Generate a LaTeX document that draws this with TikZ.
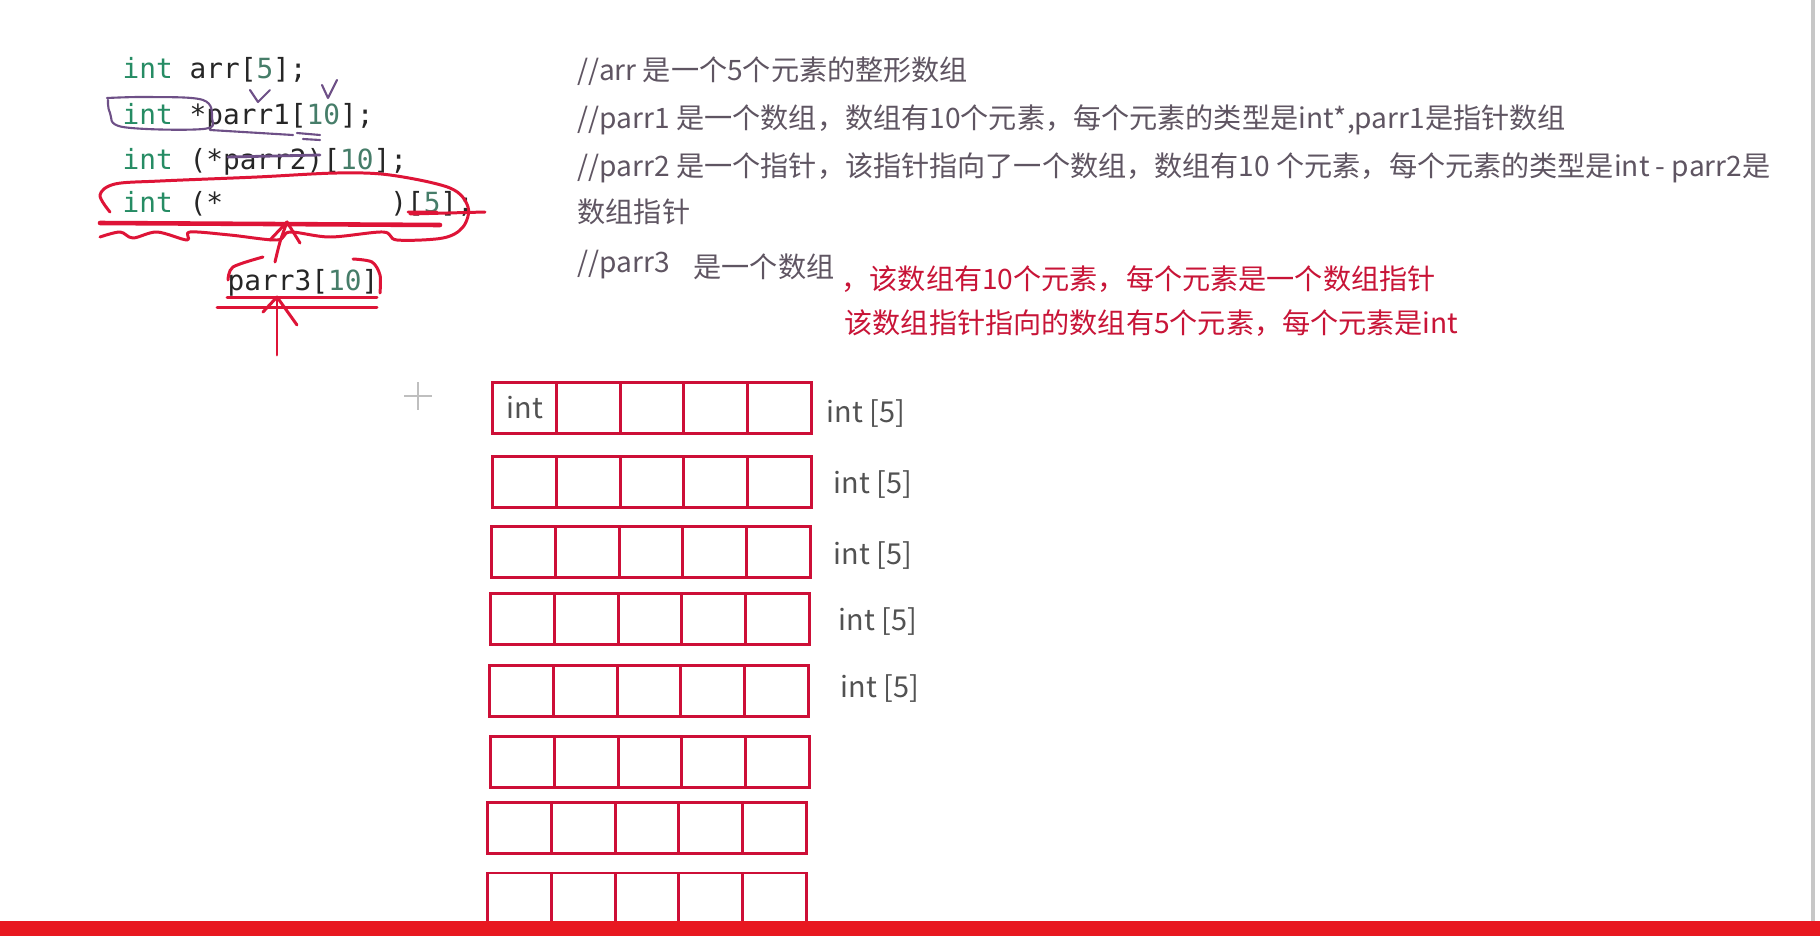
\documentclass[tikz,border=0pt]{standalone}
\usepackage{fontspec}
\setmainfont{Noto Sans CJK SC}
\newfontfamily\cjk{Noto Sans CJK SC}
\newfontfamily\codefont{DejaVu Sans Mono}
\definecolor{kwgreen}{RGB}{38,140,100}
\definecolor{numgreen}{RGB}{70,125,105}
\definecolor{notegray}{RGB}{95,85,98}
\definecolor{notered}{RGB}{200,20,55}
\definecolor{boxred}{RGB}{205,15,55}
\definecolor{inkred}{RGB}{222,20,55}
\definecolor{inkpurple}{RGB}{110,80,135}
\definecolor{bandred}{RGB}{232,24,32}
\newcommand{\kwd}[1]{\textcolor{kwgreen}{#1}}
\newcommand{\cnum}[1]{\textcolor{numgreen}{#1}}
\usetikzlibrary{positioning}

\begin{document}
\begin{tikzpicture}[x=0.01cm, y=-0.01cm,
    code/.style={anchor=base west, inner sep=0pt, text=black!85,
                 font=\codefont\fontsize{7.9pt}{9pt}\selectfont},
    note/.style={anchor=base west, inner sep=0pt, text=notegray,
                 font=\cjk\fontsize{8pt}{9pt}\selectfont},
    rednote/.style={note, text=notered},
    cell/.style={draw=boxred, line width=0.85pt, minimum width=0.636cm,
                 minimum height=0.5cm, inner sep=0pt, outer sep=0pt},
    lbl/.style={anchor=base west, inner sep=0pt, text=black!68,
                font=\cjk\fontsize{8.2pt}{9pt}\selectfont},
    redink/.style={draw=inkred, line width=0.85pt, line cap=round, line join=round},
    purpleink/.style={draw=inkpurple, line width=0.6pt, line cap=round, line join=round}
]
\useasboundingbox (0,0) rectangle (1820,936);
\fill[white] (0,0) rectangle (1820,936);

\node[code] (code1) at (122,78)  {\kwd{int} arr[\cnum{5}];};
\node[code] (code2) at (122,124) {\kwd{int} *parr1[\cnum{10}];};
\node[code] (code3) at (122,169) {\kwd{int} (*parr2)[\cnum{10}];};
\node[code] (code4) at (122,212) {\kwd{int} (*\phantom{0123456789})[\cnum{5}];};
\node[code] (code5) at (227,290) {parr3[\cnum{10}]};

\node[note] (note1) at (577,80)  {//arr 是一个5个元素的整形数组};
\node[note] (note2) at (577,128) {//parr1 是一个数组，数组有10个元素，每个元素的类型是int*,parr1是指针数组};
\node[note] (note3) at (577,176) {//parr2 是一个指针，该指针指向了一个数组，数组有10 个元素，每个元素的类型是int - parr2是};
\node[note] (note4) at (577,222) {数组指针};
\node[note] (note5) at (577,272) {//parr3};
\node[note] (note6) at (693,277) {是一个数组};
\node[rednote] (note7) at (841,289) {，该数组有10个元素，每个元素是一个数组指针};
\node[rednote] (note8) at (844,333) {该数组指针指向的数组有5个元素，每个元素是int};

\foreach \r/\x/\y in {1/493/383, 2/493/457, 3/492/527, 4/491/594,
                      5/490/666, 6/491/737, 7/488/803, 8/488/873}
  \foreach \c in {1,...,5}
    \node[cell] (cell-\r-\c) at ({\x+(\c-0.5)*63.6},{\y+25}) {};
\node[lbl, anchor=center] (intcell) at (cell-1-1) {int};

\node[lbl] (lab1) at (826,422) {int [5]};
\node[lbl] (lab2) at (833,493) {int [5]};
\node[lbl] (lab3) at (833,564) {int [5]};
\node[lbl] (lab4) at (838,630) {int [5]};
\node[lbl] (lab5) at (840,697) {int [5]};

% hand marks
\draw[purpleink] plot[smooth, tension=0.6] coordinates {(107,98) (150,97) (203,100) (212,118) (203,129) (123,127) (110,113) (108,100)};
\draw[purpleink] (210,130) -- (293,135);
\draw[purpleink] (250,90) -- (258,102) -- (270,90);
\draw[purpleink] (322,85) -- (328,98) -- (337,80);
\draw[purpleink] (297,133) -- (320,135) (303,139) -- (320,140);
\draw[purpleink, line width=0.8pt] (228,157) -- (320,155);

\draw[redink] plot[smooth, tension=0.55] coordinates {(110,212) (100,195) (115,184) (160,181) (257,177) (337,173) (390,175) (450,188) (468,207) (463,227) (443,238) (397,240) (383,232) (330,237) (290,232) (277,240) (230,235) (190,232) (187,240) (157,232) (133,238) (120,232) (100,237)};
\draw[redink, line width=1.3pt] (100,223) -- (440,225);
\draw[redink] (408,212) -- (437,212) (410,214) -- (485,212);
\draw[redink] plot[smooth] coordinates {(275,262) (280,242) (287,222)};
\draw[redink] (270,240) -- (287,222) -- (300,243);
\draw[redink] plot[smooth] coordinates {(228,280) (233,267) (263,257)};
\draw[redink] plot[smooth] coordinates {(353,259) (372,262) (380,275) (380,293)};
\draw[redink] (227,297) -- (377,297) (217,307) -- (377,307);
\draw[redink] (277,355) -- (277,298);
\draw[redink] (263,312) -- (277,297) -- (297,325);

\draw[black!25, line width=0.6pt] (404,396) -- (432,396) (418,382) -- (418,410);
\draw[black!22, line width=1pt] (1813,0) -- (1813,921);
\fill[bandred] (0,921) rectangle (1820,936);
\end{tikzpicture}
\end{document}
